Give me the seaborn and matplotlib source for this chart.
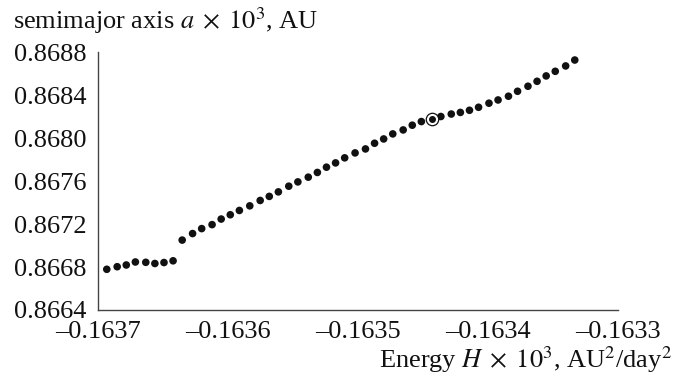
import numpy as np
import pandas as pd
import matplotlib
matplotlib.use("Agg")
import matplotlib.pyplot as plt
from matplotlib.ticker import FixedLocator, FuncFormatter
import seaborn as sns

# Energy H x 10^3 (AU^2/day^2) and semimajor axis a x 10^3 (AU)
energy = [
    -0.163693, -0.163685, -0.163678, -0.163671, -0.163663, -0.163656, -0.163649, -0.163642,
    -0.163635, -0.163627, -0.163620, -0.163612, -0.163605, -0.163598, -0.163591, -0.163583,
    -0.163575, -0.163568, -0.163561, -0.163553, -0.163546, -0.163538, -0.163531, -0.163524,
    -0.163517, -0.163510, -0.163502, -0.163494, -0.163487, -0.163480, -0.163473, -0.163465,
    -0.163458, -0.163451, -0.163443, -0.163436, -0.163428, -0.163421, -0.163414, -0.163407,
    -0.163399, -0.163392, -0.163384, -0.163377, -0.163369, -0.163362, -0.163355, -0.163348,
    -0.163340, -0.163333,
]
semimajor = [
    0.866779, 0.866803, 0.866819, 0.866847, 0.866844, 0.866833, 0.866842, 0.866858,
    0.867051, 0.867112, 0.867158, 0.867195, 0.867247, 0.867287, 0.867327, 0.867370,
    0.867420, 0.867458, 0.867500, 0.867553, 0.867593, 0.867637, 0.867681, 0.867730,
    0.867770, 0.867817, 0.867863, 0.867900, 0.867953, 0.867993, 0.868040, 0.868077,
    0.868121, 0.868155, 0.868180, 0.868202, 0.868225, 0.868240, 0.868260, 0.868288,
    0.868326, 0.868356, 0.868391, 0.868437, 0.868484, 0.868530, 0.868580, 0.868623,
    0.868673, 0.868728,
]
# index of the highlighted (ringed) state
marked_index = 34

x_ticks = [-0.1637, -0.1636, -0.1635, -0.1634, -0.1633]
y_ticks = [0.8664, 0.8668, 0.8672, 0.8676, 0.8680, 0.8684, 0.8688]

sns.set_style("white")
plt.rcParams["font.family"] = ["Liberation Serif", "DejaVu Serif"]
plt.rcParams["mathtext.fontset"] = "stix"
FS = 19


def dash_fmt(v, pos):
    return f"{v:.4f}".replace("-", "\u2013")


df = pd.DataFrame({"H": energy, "a": semimajor})
marked = df.iloc[[marked_index]]

fig = plt.figure(figsize=(6.76, 3.79), dpi=100)
ax = fig.add_axes([0.1445, 0.1821, 0.7692, 0.6799])

axis_color = "#444444"
sns.scatterplot(data=df, x="H", y="a", ax=ax, s=30, color="#111111",
                edgecolor="none", legend=False, zorder=3)
# ring around the highlighted point
ax.scatter(marked["H"], marked["a"], s=80, facecolor="white",
           edgecolor="#111111", linewidth=0.9, zorder=4)
ax.scatter(marked["H"], marked["a"], s=16, color="#111111", zorder=5)

ax.set_xlim(x_ticks[0], x_ticks[-1])
ax.set_ylim(y_ticks[0], y_ticks[-1])
ax.xaxis.set_major_locator(FixedLocator(x_ticks))
ax.yaxis.set_major_locator(FixedLocator(y_ticks))
ax.xaxis.set_major_formatter(FuncFormatter(dash_fmt))
ax.yaxis.set_major_formatter(FuncFormatter(dash_fmt))
ax.tick_params(axis="both", direction="in", length=6, width=1.0,
               color=axis_color, labelsize=FS, labelcolor="#111111")
ax.tick_params(axis="x", pad=8)
ax.tick_params(axis="y", pad=8)
for side in ("top", "right"):
    ax.spines[side].set_visible(False)
for side in ("left", "bottom"):
    ax.spines[side].set_color(axis_color)
    ax.spines[side].set_linewidth(1.0)
ax.set_xlabel("")
ax.set_ylabel("")

fig.text(12.7 / 676, 1 - 29 / 379, r"semimajor axis $a\;\times\;10^3$, AU",
         ha="left", va="baseline", fontsize=FS, color="#111111")
fig.text(672 / 676, 1 - 368 / 379, r"Energy $H\;\times\;10^3$, AU$^2$/day$^2$",
         ha="right", va="baseline", fontsize=FS, color="#111111")

fig.savefig("out.png", dpi=100, facecolor="white")
